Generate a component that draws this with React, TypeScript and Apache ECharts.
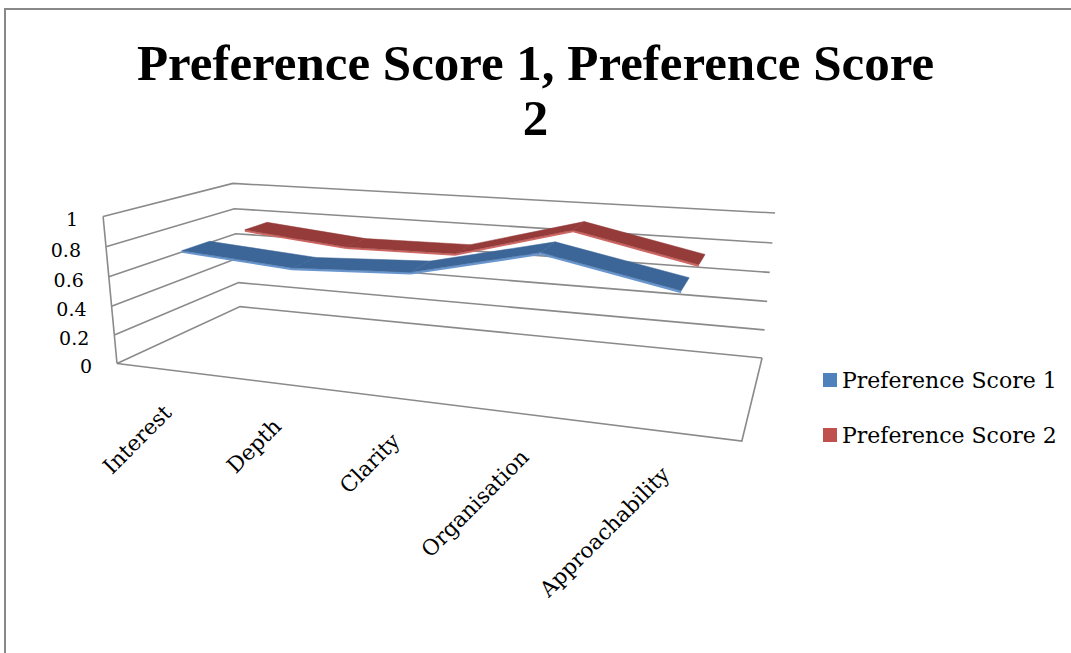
import React, { useEffect, useRef } from "react";
import * as echarts from "echarts";

const categories = ["Interest", "Depth", "Clarity", "Organisation", "Approachability"];
const score1 = [0.755, 0.7, 0.735, 0.915, 0.755];
const score2 = [0.752, 0.68, 0.69, 0.905, 0.735];
const yTicks = [0, 0.2, 0.4, 0.6, 0.8, 1];
const seriesNames = ["Preference Score 1", "Preference Score 2"];

// camera calibration: cube corner (u, v, z) -> screen
const CAL = [
  [0, 0, 0, 117, 363],
  [1, 0, 0, 742, 441],
  [0, 1, 0, 103, 217],
  [0, 0, 1, 240, 307],
  [1, 0, 1, 762, 358],
  [0, 1, 1, 233, 183],
  [1, 1, 1, 775, 213],
];

function fitCamera(cal: number[][]) {
  const S = 1000;
  const rows: number[][] = [];
  const rhs: number[] = [];
  for (const [X, Y, Z, px, py] of cal) {
    const x = px / S, y = py / S;
    rows.push([X, Y, Z, 1, 0, 0, 0, 0, -x * X, -x * Y, -x * Z]); rhs.push(x);
    rows.push([0, 0, 0, 0, X, Y, Z, 1, -y * X, -y * Y, -y * Z]); rhs.push(y);
  }
  const n = 11;
  const A = Array.from({ length: n }, () => new Array(n + 1).fill(0));
  for (let k = 0; k < rows.length; k++)
    for (let i = 0; i < n; i++) {
      for (let j = 0; j < n; j++) A[i][j] += rows[k][i] * rows[k][j];
      A[i][n] += rows[k][i] * rhs[k];
    }
  for (let c = 0; c < n; c++) {
    let p = c;
    for (let r = c + 1; r < n; r++) if (Math.abs(A[r][c]) > Math.abs(A[p][c])) p = r;
    const tmp = A[c]; A[c] = A[p]; A[p] = tmp;
    for (let r = 0; r < n; r++)
      if (r !== c) {
        const f = A[r][c] / A[c][c];
        for (let j = c; j <= n; j++) A[r][j] -= f * A[c][j];
      }
  }
  return A.map((row, i) => row[n] / row[i]);
}

export default function App() {
  const ref = useRef<HTMLDivElement>(null);
  useEffect(() => {
    const chart = echarts.init(ref.current!, null, { renderer: "svg" });
    const m = fitCamera(CAL);
    const proj = (u: number, v: number, z: number) => {
      const w = m[8] * u + m[9] * v + m[10] * z + 1;
      return [
        (1000 * (m[0] * u + m[1] * v + m[2] * z + m[3])) / w,
        (1000 * (m[4] * u + m[5] * v + m[6] * z + m[7])) / w,
      ];
    };

    const font = "DejaVu Serif";
    const gridColor = "#8a8a8a";
    const depth = [
      [0.155, 0.366],
      [0.662, 0.868],
    ];
    const topColors = ["#3d6698", "#953b39"];
    const sideColors = ["#6a96cf", "#cf6764"];
    const thick = 0.015;

    const frameRender = (params: any, api: any) => {
      const cs = params.coordSys;
      const uv = (i: number, val: number) => {
        const p = api.coord([i, val]);
        return [(p[0] - cs.x) / cs.width, (cs.y + cs.height - p[1]) / cs.height];
      };
      const children: any[] = [];
      const ls = { stroke: gridColor, lineWidth: 1.6, fill: null };
      yTicks.forEach((t) => {
        const v = uv(0, t)[1];
        children.push({
          type: "polyline",
          shape: { points: [proj(0, v, 0), proj(0, v, 1), proj(1, v, 1)] },
          style: ls,
        });
        const p = proj(0, v, 0);
        children.push({
          type: "text",
          x: p[0] - 25,
          y: p[1] + 3,
          style: { text: String(t), fill: "#000", font: `19px "${font}"`, align: "right", verticalAlign: "middle" },
        });
      });
      children.push({ type: "polyline", shape: { points: [proj(0, 0, 0), proj(0, 1, 0)] }, style: ls });
      children.push({
        type: "polyline",
        shape: { points: [proj(0, 0, 0), proj(1, 0, 0), proj(1, 0, 1)] },
        style: ls,
      });
      categories.forEach((c, i) => {
        const u = uv(i, 0)[0];
        const p = proj(u, 0, 0);
        children.push({
          type: "text",
          x: p[0] - 1,
          y: p[1] + 39,
          rotation: Math.PI / 4,
          style: { text: c, fill: "#000", font: `21.5px "${font}"`, align: "right", verticalAlign: "middle" },
        });
      });
      return { type: "group", children };
    };

    const ribbonRender = (k: number, vals: number[]) => (params: any, api: any) => {
      const i = params.dataIndex;
      if (i >= vals.length - 1) return { type: "group", children: [] };
      const cs = params.coordSys;
      const uv = (j: number, val: number) => {
        const p = api.coord([j, val]);
        return [(p[0] - cs.x) / cs.width, (cs.y + cs.height - p[1]) / cs.height];
      };
      const a = uv(i, vals[i]);
      const b = uv(i + 1, vals[i + 1]);
      const [z0, z1] = depth[k];
      return {
        type: "group",
        children: [
          {
            type: "polygon",
            shape: { points: [proj(a[0], a[1], z0), proj(b[0], b[1], z0), proj(b[0], b[1] - thick, z0), proj(a[0], a[1] - thick, z0)] },
            style: { fill: sideColors[k] },
          },
          {
            type: "polygon",
            shape: { points: [proj(a[0], a[1], z0), proj(b[0], b[1], z0), proj(b[0], b[1], z1), proj(a[0], a[1], z1)] },
            style: { fill: topColors[k], stroke: topColors[k], lineWidth: 0.5 },
          },
        ],
      };
    };

    chart.setOption({
      animation: false,
      backgroundColor: "#fff",
      title: {
        text: "Preference Score 1, Preference Score\n2",
        left: "center",
        top: 30,
        textStyle: { fontFamily: "Liberation Serif", fontWeight: "bold", fontSize: 51, lineHeight: 55, color: "#000" },
      },
      legend: {
        orient: "vertical",
        left: 823,
        top: 369,
        padding: 0,
        itemWidth: 14,
        itemHeight: 14,
        itemGap: 33,
        icon: "rect",
        data: seriesNames,
        textStyle: { fontFamily: font, fontSize: 22, lineHeight: 22, color: "#000" },
      },
      grid: { left: 100, top: 100, width: 500, height: 300, show: false },
      xAxis: { type: "category", data: categories, show: false, boundaryGap: true },
      yAxis: { type: "value", min: 0, max: 1, interval: 0.2, show: false },
      graphic: [
        { type: "rect", shape: { x: 5, y: 9, width: 1100, height: 700 }, style: { fill: null, stroke: "#888", lineWidth: 2 } },
      ],
      series: [
        { type: "custom", name: "frame", z: 1, data: [[0, 0]], renderItem: frameRender, silent: true },
        {
          type: "custom", name: seriesNames[1], z: 2, itemStyle: { color: "#c0504d" },
          data: score2.map((v, i) => [i, v]), renderItem: ribbonRender(1, score2),
        },
        {
          type: "custom", name: seriesNames[0], z: 3, itemStyle: { color: "#4f81bd" },
          data: score1.map((v, i) => [i, v]), renderItem: ribbonRender(0, score1),
        },
      ],
    });
    return () => chart.dispose();
  }, []);
  return <div ref={ref} style={{ position: "fixed", left: 0, top: 0, width: 1071, height: 653 }} />;
}
